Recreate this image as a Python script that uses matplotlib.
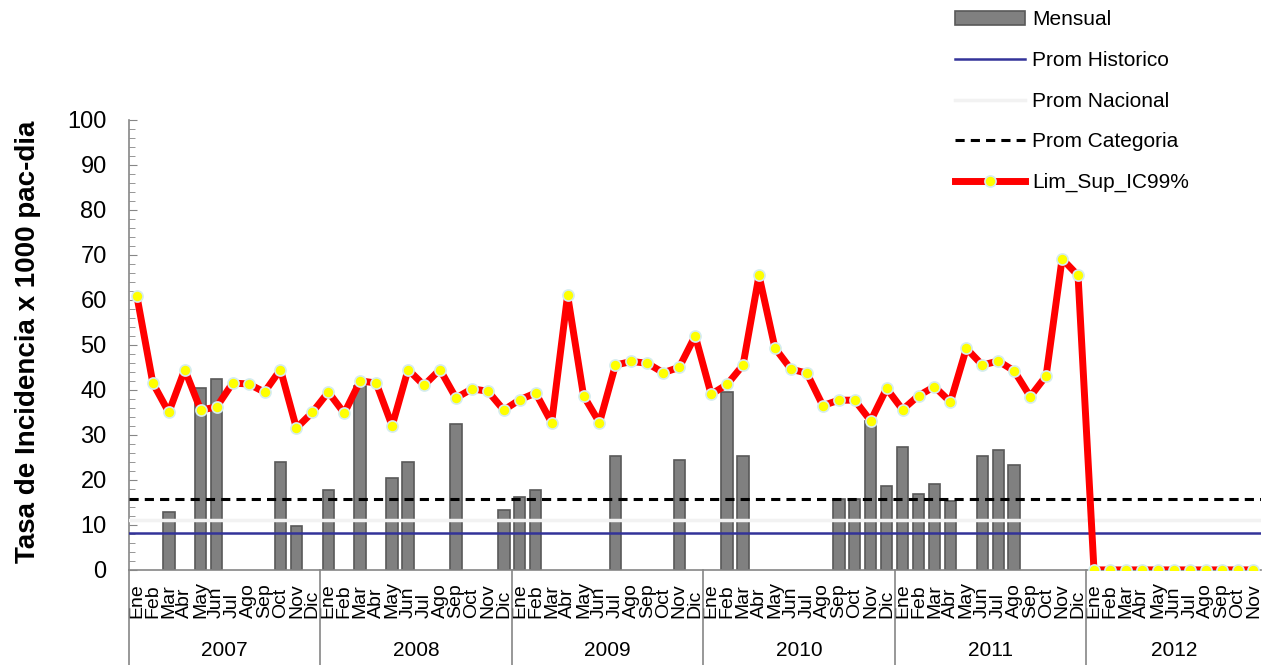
import numpy as np
import matplotlib.pyplot as plt

plt.rcParams['font.family'] = ['Liberation Sans', 'DejaVu Sans']

months = ['Ene', 'Feb', 'Mar', 'Abr', 'May', 'Jun', 'Jul', 'Ago', 'Sep', 'Oct', 'Nov', 'Dic']
years = ['2007', '2008', '2009', '2010', '2011', '2012']
n_last = 11  # 2012 only up to Nov

# monthly incidence (bars)
mensual = [0, 0, 12.8, 0, 40.3, 42.5, 0, 0, 0, 24.0, 9.8, 0,
           17.8, 0, 40.9, 0, 20.4, 24.0, 0, 0, 32.5, 0, 0, 13.3,
           16.1, 17.8, 0, 0, 0, 0, 25.2, 0, 0, 0, 24.5, 0,
           0, 39.5, 25.2, 0, 0, 0, 0, 0, 15.7, 15.8, 33.0, 18.7,
           27.3, 16.8, 19.0, 15.3, 0, 25.2, 26.6, 23.4, 0, 0, 0, 0,
           0, 0, 0, 0, 0, 0, 0, 0, 0, 0, 0]

# upper limit IC99%
lim_sup = [60.8, 41.5, 35.0, 44.5, 35.5, 36.2, 41.5, 41.3, 39.5, 44.5, 31.5, 35.0,
           39.5, 34.8, 42.0, 41.5, 32.0, 44.5, 41.0, 44.5, 38.2, 40.2, 39.7, 35.5,
           37.8, 39.3, 32.7, 61.0, 38.7, 32.7, 45.5, 46.3, 45.9, 43.8, 45.0, 52.0,
           39.0, 41.2, 45.5, 65.4, 49.3, 44.6, 43.7, 36.5, 37.7, 37.7, 33.1, 40.3,
           35.6, 38.7, 40.7, 37.3, 49.2, 45.5, 46.4, 44.2, 38.5, 43.1, 69.1, 65.4,
           0, 0, 0, 0, 0, 0, 0, 0, 0, 0, 0]

prom_historico = 8.3
prom_nacional = 11.1
prom_categoria = 15.8

labels = months * 5 + months[:n_last]
x = np.arange(len(labels))

fig = plt.figure(figsize=(12.64, 6.65), dpi=100)
ax = fig.add_axes([0.102, 0.143, 0.896, 0.677])

edges = ['#595959' if v > 0 else 'none' for v in mensual]
ax.bar(x, mensual, width=0.72, color='#808080', edgecolor=edges, linewidth=1.2,
       label='Mensual', zorder=2)
ax.axhline(prom_historico, color='#333399', lw=1.8, label='Prom Historico', zorder=3)
ax.axhline(prom_nacional, color='#f2f2f2', lw=2.5, label='Prom Nacional', zorder=3)
ax.axhline(prom_categoria, color='black', lw=2.2, ls=(0, (3, 2)), label='Prom Categoria', zorder=3)
ax.plot(x, lim_sup, color='#ff0000', lw=5, marker='o', ms=8, mfc='#ffff00',
        mec='#d4ecf0', mew=1.2, label='Lim_Sup_IC99%', zorder=4)

ax.set_xlim(-0.5, len(labels) - 0.5)
ax.set_ylim(0, 100)
ax.set_yticks(np.arange(0, 101, 10))
ax.set_yticks(np.arange(0, 101, 2), minor=True)
ax.tick_params(axis='y', which='both', direction='in', color='#868686', labelsize=17, pad=16)
ax.tick_params(axis='y', which='major', length=6)
ax.tick_params(axis='y', which='minor', length=4)
ax.set_xticks(x)
ax.set_xticklabels(labels, rotation=90, fontsize=14, va='bottom', ha='center')
ax.tick_params(axis='x', length=0, pad=34.5)

for s in ['top', 'right']:
    ax.spines[s].set_visible(False)
for s in ['left', 'bottom']:
    ax.spines[s].set_color('#868686')
    ax.spines[s].set_linewidth(1.2)

fig.text(28 / 1264, 0.486, 'Tasa de Incidencia x 1000 pac-dia', rotation=90,
         ha='center', va='center', fontsize=20, fontweight='bold')

# year groups under the axis
tr = ax.get_xaxis_transform()
bounds = [-0.5, 11.5, 23.5, 35.5, 47.5, 59.5, len(labels) - 0.5]
for b in bounds[:-1]:
    ax.plot([b, b], [0, -0.215], transform=tr, color='#868686', lw=1.2, clip_on=False)
for i, yr in enumerate(years):
    ax.text((bounds[i] + bounds[i + 1]) / 2, -0.178, yr, transform=tr,
            ha='center', va='center', fontsize=15)

h, l = ax.get_legend_handles_labels()
order = [l.index('Mensual'), l.index('Prom Historico'), l.index('Prom Nacional'),
         l.index('Prom Categoria'), l.index('Lim_Sup_IC99%')]
leg = fig.legend([h[i] for i in order], [l[i] for i in order], loc='upper left',
                 bbox_to_anchor=(0.7555, 0.9845), frameon=False, fontsize=15,
                 borderpad=0, borderaxespad=0, handlelength=3.37, handleheight=0.6,
                 labelspacing=1.04, handletextpad=0.35)
leg.legend_handles[0].set_edgecolor('#595959')

plt.savefig('out.png', dpi=100)
